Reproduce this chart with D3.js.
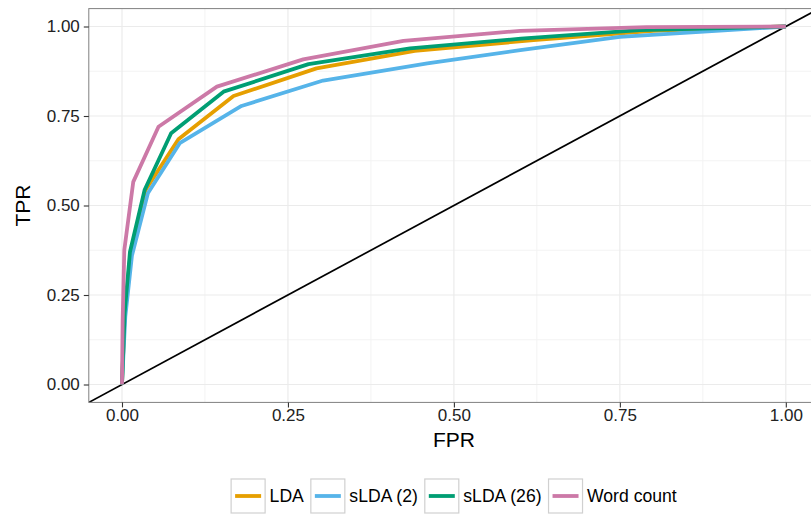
<!DOCTYPE html>
<html>
<head>
<meta charset="utf-8">
<script src="https://cdn.jsdelivr.net/npm/d3@7"></script>
<style>
  html, body { margin: 0; padding: 0; background: #ffffff; }
  svg { display: block; font-family: "Liberation Sans", Arial, Helvetica, sans-serif; }
</style>
</head>
<body>
<svg id="chart" width="811" height="516"></svg>
<script>
// ROC curves: false positive rate vs true positive rate for each classifier
const seriesNames = ["LDA", "sLDA (2)", "sLDA (26)", "Word count"];
const seriesColors = ["#E69F00", "#56B4E9", "#009E73", "#CC79A7"];

const ldaFPR   = [0, 0.004, 0.013, 0.036, 0.085, 0.168, 0.293, 0.441, 0.620, 0.800, 1];
const ldaTPR   = [0, 0.190, 0.370, 0.545, 0.685, 0.806, 0.883, 0.932, 0.962, 0.988, 1];
const slda2FPR = [0, 0.005, 0.015, 0.039, 0.087, 0.180, 0.303, 0.460, 0.600, 0.750, 1];
const slda2TPR = [0, 0.190, 0.360, 0.534, 0.674, 0.778, 0.849, 0.897, 0.934, 0.971, 1];
const slda26FPR = [0, 0.004, 0.012, 0.034, 0.074, 0.153, 0.281, 0.434, 0.601, 0.780, 1];
const slda26TPR = [0, 0.200, 0.370, 0.543, 0.702, 0.818, 0.895, 0.939, 0.966, 0.990, 1];
const wordFPR  = [0, 0.001, 0.0035, 0.017, 0.055, 0.143, 0.273, 0.424, 0.600, 0.790, 1];
const wordTPR  = [0, 0.180, 0.376, 0.566, 0.720, 0.832, 0.908, 0.960, 0.988, 0.998, 1];

const majorTicks = [0, 0.25, 0.5, 0.75, 1];
const minorTicks = [0.125, 0.375, 0.625, 0.875];
const xTitle = "FPR";
const yTitle = "TPR";

const fprs = [ldaFPR, slda2FPR, slda26FPR, wordFPR];
const tprs = [ldaTPR, slda2TPR, slda26TPR, wordTPR];
const series = seriesNames.map((name, i) => ({
  name, color: seriesColors[i],
  points: fprs[i].map((f, j) => ({ fpr: f, tpr: tprs[i][j] }))
}));

const svg = d3.select("#chart");
const panel = { left: 88.8, right: 819, top: 8.6, bottom: 402.4 };
const domain = [-0.05, 1.05];

const x = d3.scaleLinear().domain(domain).range([panel.left, panel.right]);
const y = d3.scaleLinear().domain(domain).range([panel.bottom, panel.top]);

svg.append("defs").append("clipPath").attr("id", "panel-clip")
  .append("rect")
  .attr("x", panel.left).attr("y", panel.top)
  .attr("width", panel.right - panel.left).attr("height", panel.bottom - panel.top);

// grid
const grid = svg.append("g");
grid.selectAll(".minx").data(minorTicks).join("line")
  .attr("x1", d => x(d)).attr("x2", d => x(d))
  .attr("y1", panel.top).attr("y2", panel.bottom)
  .attr("stroke", "#F3F3F3").attr("stroke-width", 1);
grid.selectAll(".miny").data(minorTicks).join("line")
  .attr("y1", d => y(d)).attr("y2", d => y(d))
  .attr("x1", panel.left).attr("x2", panel.right)
  .attr("stroke", "#F3F3F3").attr("stroke-width", 1);
grid.selectAll(".majx").data(majorTicks).join("line")
  .attr("x1", d => x(d)).attr("x2", d => x(d))
  .attr("y1", panel.top).attr("y2", panel.bottom)
  .attr("stroke", "#EBEBEB").attr("stroke-width", 1.2);
grid.selectAll(".majy").data(majorTicks).join("line")
  .attr("y1", d => y(d)).attr("y2", d => y(d))
  .attr("x1", panel.left).attr("x2", panel.right)
  .attr("stroke", "#EBEBEB").attr("stroke-width", 1.2);

const plot = svg.append("g").attr("clip-path", "url(#panel-clip)");

// reference diagonal across the whole panel
plot.append("line")
  .attr("x1", x(domain[0])).attr("y1", y(domain[0]))
  .attr("x2", x(domain[1])).attr("y2", y(domain[1]))
  .attr("stroke", "#000").attr("stroke-width", 1.7);

const line = d3.line().x(d => x(d.fpr)).y(d => y(d.tpr));
plot.selectAll(".roc").data(series).join("path")
  .attr("d", d => line(d.points))
  .attr("fill", "none")
  .attr("stroke", d => d.color)
  .attr("stroke-width", 3.8)
  .attr("stroke-linejoin", "round");

// panel border
svg.append("rect")
  .attr("x", panel.left).attr("y", panel.top)
  .attr("width", panel.right - panel.left).attr("height", panel.bottom - panel.top)
  .attr("fill", "none").attr("stroke", "#808080").attr("stroke-width", 1);

// axes
const fmt = d3.format(".2f");
const xAxis = d3.axisBottom(x).tickValues(majorTicks).tickFormat(fmt).tickSize(5).tickPadding(2);
const yAxis = d3.axisLeft(y).tickValues(majorTicks).tickFormat(fmt).tickSize(5).tickPadding(4);

const gx = svg.append("g").attr("transform", `translate(0,${panel.bottom})`).call(xAxis);
const gy = svg.append("g").attr("transform", `translate(${panel.left},0)`).call(yAxis);
[gx, gy].forEach(g => {
  g.select(".domain").remove();
  g.selectAll(".tick line").attr("stroke", "#333").attr("stroke-width", 1.1);
  g.selectAll(".tick text").attr("fill", "#222").style("font-size", "17px")
    .style("font-family", "'Liberation Sans', Arial, sans-serif");
});

// axis titles
svg.append("text")
  .attr("x", (panel.left + panel.right) / 2).attr("y", 447)
  .attr("text-anchor", "middle").style("font-size", "21px").attr("fill", "#000")
  .text(xTitle);
svg.append("text")
  .attr("transform", `translate(30,${(panel.top + panel.bottom) / 2}) rotate(-90)`)
  .attr("text-anchor", "middle").style("font-size", "21px").attr("fill", "#000")
  .text(yTitle);

// legend along the bottom, centred on the panel
const keySize = 34, keyGap = 4.5, itemGap = 7, legendCy = 496;
const legend = svg.append("g");
const items = legend.selectAll("g").data(series).join("g");
items.append("rect")
  .attr("width", keySize).attr("height", keySize)
  .attr("y", legendCy - keySize / 2)
  .attr("fill", "#fff").attr("stroke", "#D0D0D0").attr("stroke-width", 1.2);
items.append("line")
  .attr("x1", 4).attr("x2", keySize - 4)
  .attr("y1", legendCy).attr("y2", legendCy)
  .attr("stroke", d => d.color).attr("stroke-width", 3.8);
items.append("text")
  .attr("x", keySize + keyGap).attr("y", legendCy + 6.3)
  .style("font-size", "17.6px").attr("fill", "#000")
  .text(d => d.name);

let offsets = [], cursor = 0;
items.each(function () {
  const w = d3.select(this).select("text").node().getComputedTextLength();
  offsets.push(cursor);
  cursor += keySize + keyGap + w + itemGap;
});
const total = cursor - itemGap;
const start = (panel.left + panel.right) / 2 - total / 2;
items.attr("transform", (d, i) => `translate(${start + offsets[i]},0)`);
</script>
</body>
</html>
